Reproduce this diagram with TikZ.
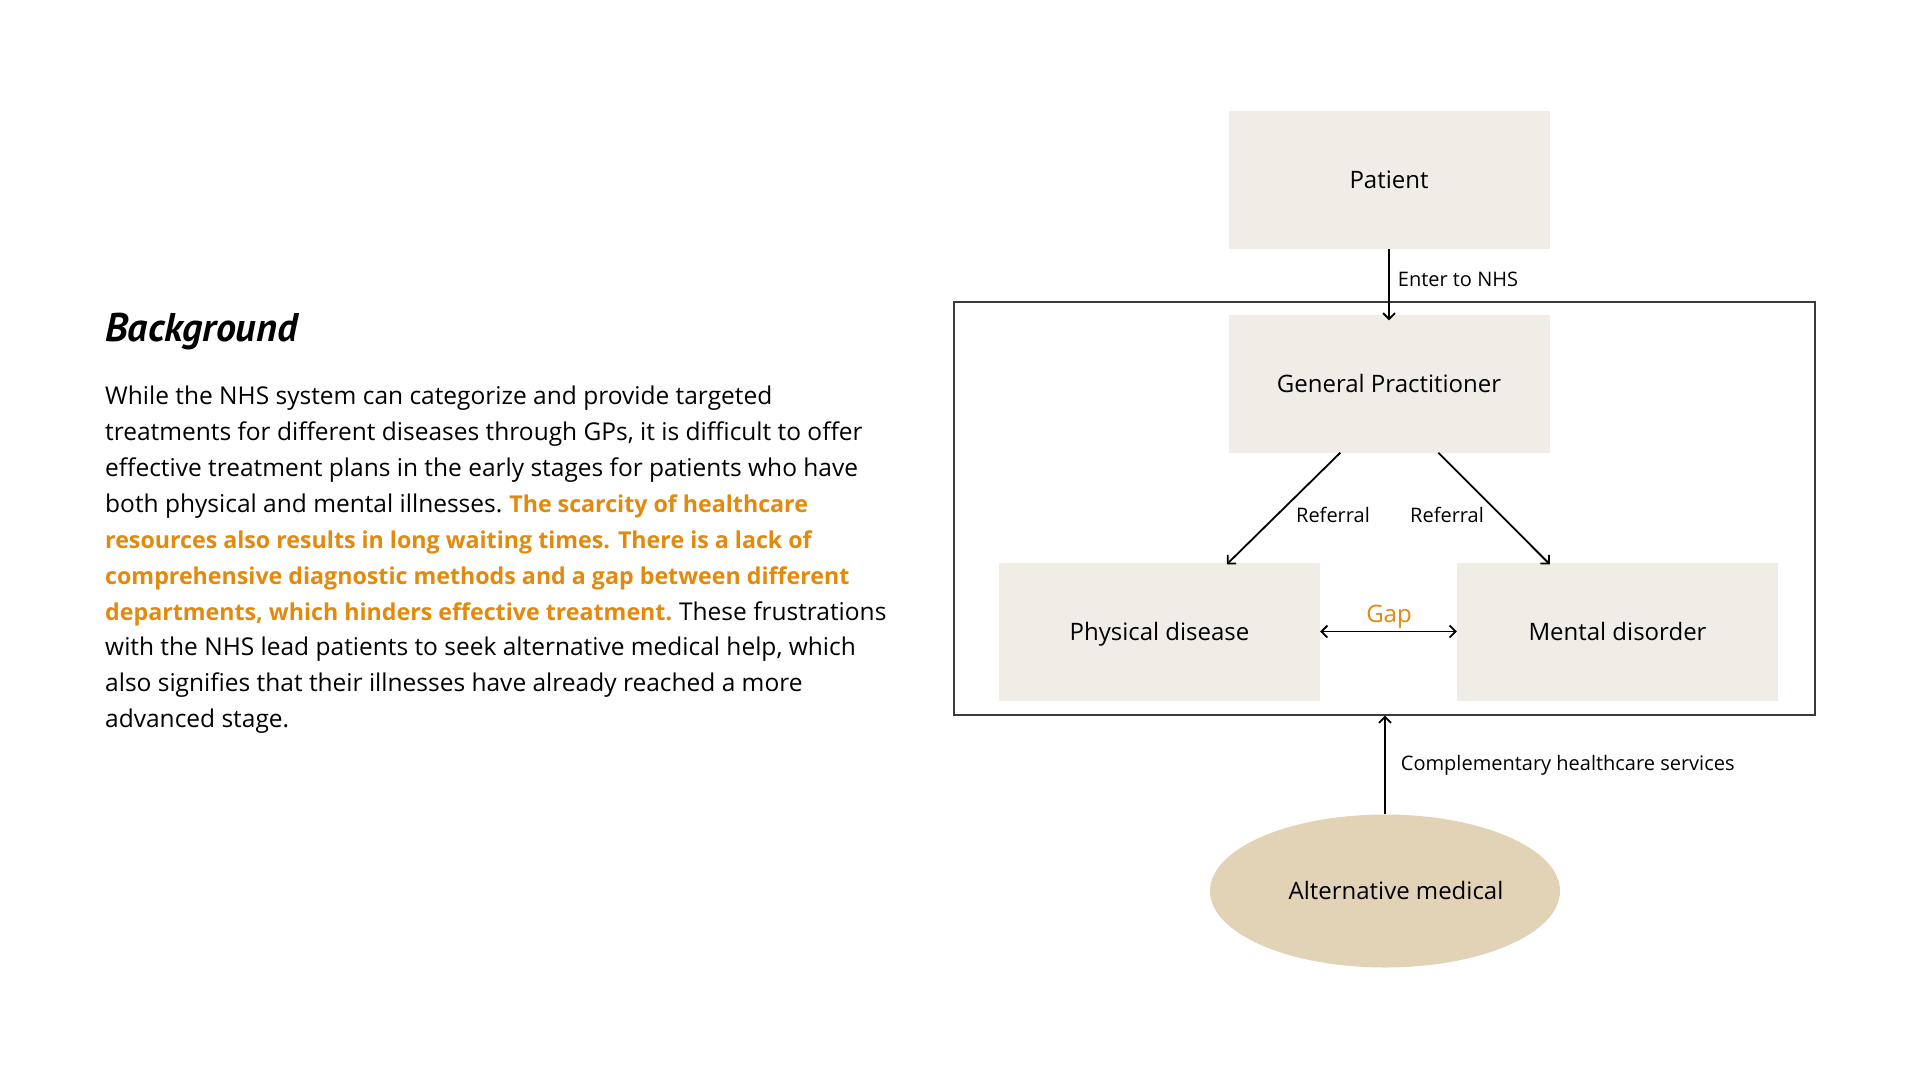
\documentclass[tikz,border=0pt]{standalone}
\usepackage{fontspec}
\setmainfont{Open Sans}
\newfontfamily\titlefont{PT Sans}
\usetikzlibrary{arrows.meta,shapes.geometric,calc}
\definecolor{boxfill}{HTML}{F0EDE6}
\definecolor{altfill}{HTML}{E3D3B6}
\definecolor{accent}{HTML}{E3890B}
\definecolor{frameline}{HTML}{3A3A3A}
\newcommand{\hlt}[1]{{\color{accent}\fontsize{23.2}{36}\selectfont\bfseries #1}}
\begin{document}
\begin{tikzpicture}[x=1pt,y=-1pt,
  box/.style={fill=boxfill, minimum width=321pt, minimum height=138pt, inner sep=0pt, text height=17pt, text depth=0pt, font=\fontsize{24}{28}\selectfont},
  flow/.style={line width=1.8pt, -{Straight Barb[length=6pt,width=12pt]}},
  lbl/.style={font=\fontsize{20}{24}\selectfont, inner sep=0pt},
  body/.style={anchor=base west, inner sep=0pt, font=\fontsize{24.5}{36}\selectfont}]
\path[use as bounding box, fill=white] (0,0) rectangle (1920,1080);

% left text
\node[anchor=base west, inner sep=0pt, font=\titlefont\bfseries\itshape\fontsize{40}{44}\selectfont] (title) at (105,341) {Background};
\node[body] (l1) at (105,404) {While the NHS system can categorize and provide targeted};
\node[body] (l2) at (105,440) {treatments for different diseases through GPs, it is difficult to offer};
\node[body] (l3) at (105,476) {effective treatment plans in the early stages for patients who have};
\node[body] (l4) at (105,512) {both physical and mental illnesses.\hspace{-1.5pt} \hlt{The scarcity of healthcare}};
\node[body] (l5) at (105,548) {\hlt{resources also results in long waiting times. There is a lack of}};
\node[body] (l6) at (105,584) {\hlt{comprehensive diagnostic methods and a gap between different}};
\node[body] (l7) at (105,620) {\hlt{departments, which hinders effective treatment.}\hspace{-1.5pt} These frustrations};
\node[body] (l8) at (105,655) {with the NHS lead patients to seek alternative medical help, which};
\node[body] (l9) at (105,691) {also signifies that their illnesses have already reached a more};
\node[body] (l10) at (105,727) {advanced stage.};

% diagram
\node[draw=frameline, line width=1.3pt, minimum width=861pt, minimum height=413pt, inner sep=0pt] (nhs) at (1384.5,508.5) {};
\node[box] (patient) at (1389,180) {Patient};
\node[box] (gp) at (1389,383.5) {General Practitioner};
\node[box] (phys) at (1159.5,631.5) {Physical disease};
\node[box] (mental) at (1617.5,631.5) {Mental disorder};
\node[ellipse, fill=altfill, minimum width=350pt, minimum height=153pt, inner sep=0pt, text height=17pt, text depth=0pt, font=\fontsize{24}{28}\selectfont] (alt) at (1385,891) {\hspace*{22pt}Alternative medical};

\coordinate (gpL) at ($(gp.south west)+(112,0)$);
\coordinate (gpR) at ($(gp.south west)+(210,0)$);
\coordinate (physT) at ($(phys.north west)+(228,2)$);
\coordinate (mentT) at ($(mental.north west)+(93,2)$);

\draw[flow] (patient.south) -- ($(gp.north)+(0,6)$)
  node[lbl, pos=0.42, anchor=west, xshift=8pt] (enterlbl) {Enter to NHS};
\draw[flow] (gpL) -- (physT);
\draw[flow] (gpR) -- (mentT);
\node[lbl] (ref1) at (1333,515) {Referral};
\node[lbl] (ref2) at (1447,515) {Referral};
\draw[flow, {Straight Barb[length=6pt,width=12pt]}-{Straight Barb[length=6pt,width=12pt]}] (phys.east) -- (mental.west);
\node[lbl, text=accent, font=\fontsize{24}{28}\selectfont] (gaplbl) at (1389,617) {Gap};
\draw[flow] (alt.north) -- (alt.north |- nhs.south)
  node[lbl, midway, anchor=west, xshift=15pt] (complbl) {Complementary healthcare services};
\end{tikzpicture}
\end{document}
